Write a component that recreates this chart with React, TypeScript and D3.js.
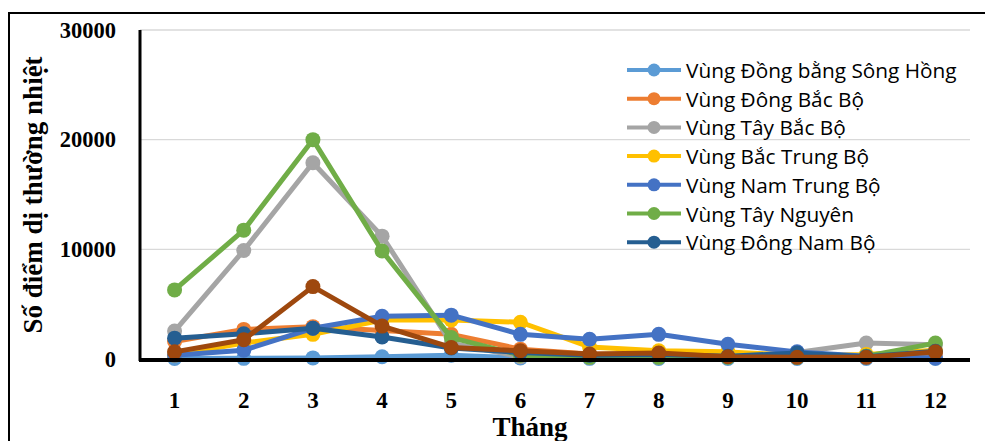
import React from 'react';
import * as d3 from 'd3';

const months = ['1', '2', '3', '4', '5', '6', '7', '8', '9', '10', '11', '12'];
const yTicks = [0, 10000, 20000, 30000];

const dongBangSongHong = [50, 60, 100, 200, 350, 100, 60, 50, 50, 50, 50, 50];
const dongBacBo = [1600, 2700, 2950, 2600, 2250, 900, 450, 400, 300, 250, 250, 500];
const tayBacBo = [2550, 9900, 17900, 11200, 1450, 200, 150, 150, 300, 600, 1450, 1300];
const bacTrungBo = [350, 1450, 2250, 3550, 3550, 3350, 1100, 750, 650, 300, 400, 800];
const namTrungBo = [350, 800, 2800, 3900, 4000, 2250, 1800, 2250, 1350, 650, 250, 100];
const tayNguyen = [6300, 11750, 20000, 9850, 1950, 350, 150, 150, 150, 150, 250, 1450];
const dongNamBo = [1900, 2300, 2800, 2000, 1000, 600, 350, 400, 250, 550, 200, 700];
const vungKhac = [650, 1750, 6600, 3000, 1050, 750, 450, 550, 200, 150, 150, 650];

const seriesNames = [
  'Vùng Đồng bằng Sông Hồng',
  'Vùng Đông Bắc Bộ',
  'Vùng Tây Bắc Bộ',
  'Vùng Bắc Trung Bộ',
  'Vùng Nam Trung Bộ',
  'Vùng Tây Nguyên',
  'Vùng Đông Nam Bộ',
];

const series = [
  { name: seriesNames[0], values: dongBangSongHong, color: '#5b9bd5' },
  { name: seriesNames[1], values: dongBacBo, color: '#ed7d31' },
  { name: seriesNames[2], values: tayBacBo, color: '#a5a5a5' },
  { name: seriesNames[3], values: bacTrungBo, color: '#ffc000' },
  { name: seriesNames[4], values: namTrungBo, color: '#4472c4' },
  { name: seriesNames[5], values: tayNguyen, color: '#70ad47' },
  { name: seriesNames[6], values: dongNamBo, color: '#255e91' },
  { name: '', values: vungKhac, color: '#9e480e' },
];

const W = 985;
const H = 441;
const plot = { left: 140, right: 970, top: 30, bottom: 359 };
const serif = '"Liberation Serif", "Times New Roman", serif';
const sans = '"Open Sans", "Noto Sans", sans-serif';

const App = () => {
  const x = d3.scaleBand()
    .domain(months)
    .range([plot.left, plot.right]);
  const y = d3.scaleLinear()
    .domain([0, 30000])
    .range([plot.bottom, plot.top]);
  const cx = (m: string) => (x(m) as number) + x.bandwidth() / 2;

  const line = d3.line<number>()
    .x((_, i) => cx(months[i]))
    .y((d) => y(d));

  const legendX = 627;
  const legendY = 70;
  const legendStep = 28.7;

  return (
    <div style={{ position: 'fixed', left: 0, top: 0 }}>
      <svg width={W} height={H} style={{ display: 'block', background: '#fff' }}>
        {/* chart frame */}
        <line x1={9} x2={W} y1={13} y2={13} stroke="#000" strokeWidth={2} />
        <line x1={9} x2={9} y1={12} y2={H} stroke="#000" strokeWidth={2} />

        {yTicks.filter((t) => t > 0).map((t) => (
          <line key={t} x1={plot.left} x2={plot.right} y1={y(t)} y2={y(t)} stroke="#d9d9d9" strokeWidth={1.3} />
        ))}

        {yTicks.map((t) => (
          <text
            key={t}
            x={116}
            y={y(t)}
            textAnchor="end"
            dominantBaseline="central"
            fontFamily={serif}
            fontWeight="bold"
            fontSize={22.5}
          >
            {t}
          </text>
        ))}

        {months.map((m) => (
          <text
            key={m}
            x={cx(m)}
            y={400}
            textAnchor="middle"
            dominantBaseline="central"
            fontFamily={serif}
            fontWeight="bold"
            fontSize={23}
          >
            {m}
          </text>
        ))}

        <text
          x={530}
          y={436}
          textAnchor="middle"
          fontFamily={serif}
          fontWeight="bold"
          fontSize={27}
        >
          Tháng
        </text>
        <text
          transform={`translate(42, 195) rotate(-90)`}
          textAnchor="middle"
          fontFamily={serif}
          fontWeight="bold"
          fontSize={27}
        >
          Số điểm dị thường nhiệt
        </text>

        {series.map((s) => (
          <g key={s.color}>
            <path d={line(s.values) as string} fill="none" stroke={s.color} strokeWidth={5} strokeLinejoin="round" />
            {s.values.map((v, i) => (
              <circle key={months[i]} cx={cx(months[i])} cy={y(v)} r={7.5} fill={s.color} />
            ))}
          </g>
        ))}

        <line x1={plot.left} x2={plot.left} y1={plot.top} y2={plot.bottom + 2} stroke="#000" strokeWidth={3} />
        <line x1={plot.left - 1} x2={plot.right} y1={plot.bottom + 1} y2={plot.bottom + 1} stroke="#000" strokeWidth={4} />

        {series.filter((s) => s.name).map((s, i) => {
          const ly = legendY + i * legendStep;
          return (
            <g key={s.name}>
              <line x1={legendX} x2={legendX + 54} y1={ly} y2={ly} stroke={s.color} strokeWidth={4} />
              <circle cx={legendX + 27} cy={ly} r={6.5} fill={s.color} />
              <text
                x={legendX + 59}
                y={ly}
                dominantBaseline="central"
                fontFamily={sans}
                fontSize={20.8}
                fill="#000"
              >
                {s.name}
              </text>
            </g>
          );
        })}
      </svg>
    </div>
  );
};

export default App;
